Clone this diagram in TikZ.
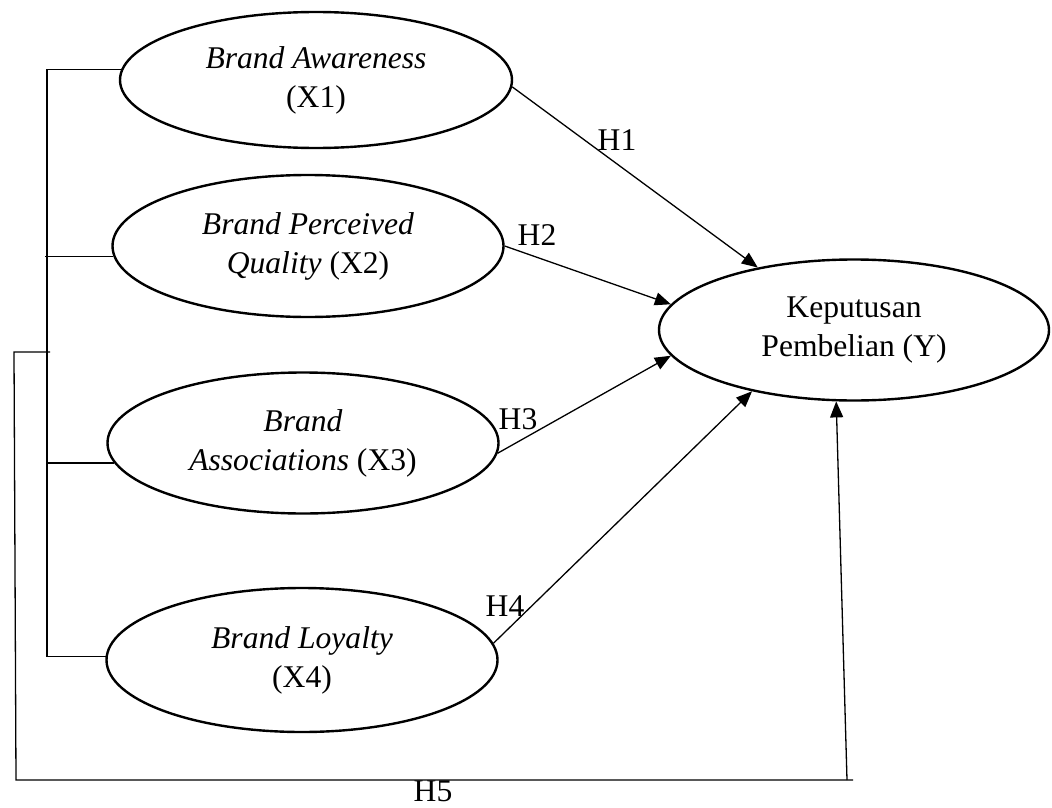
\documentclass[tikz,border=0pt]{standalone}
\usepackage{fontspec}
\setmainfont{Liberation Serif}
\usetikzlibrary{shapes.geometric,arrows.meta}
\begin{document}
\begin{tikzpicture}[x=1pt,y=-1pt,
  var/.style={ellipse, draw, line width=2.4pt, inner sep=0pt, align=center,
    font=\fontsize{31.6}{39}\selectfont},
  conn/.style={line width=1.3pt},
  hyp/.style={conn, -{Triangle[length=16pt,width=13pt]}},
  lbl/.style={font=\fontsize{31.6}{39}\selectfont, inner sep=0pt}]
\useasboundingbox (0,0) rectangle (1052,808);

\node[var, minimum width=392pt, minimum height=136pt] (X1) at (316,80)
  {\textit{Brand Awareness}\\(X1)};
\node[var, minimum width=391pt, minimum height=142pt] (X2) at (308,246)
  {\textit{Brand Perceived}\\\textit{Quality} (X2)};
\node[var, minimum width=391pt, minimum height=141pt] (X3) at (303,443)
  {\textit{Brand}\\\textit{Associations} (X3)};
\node[var, minimum width=391pt, minimum height=144pt] (X4) at (302,660)
  {\textit{Brand Loyalty}\\(X4)};
\node[var, minimum width=390pt, minimum height=141pt] (Y) at (854,330)
  {Keputusan\\Pembelian (Y)};

% left bracket
\coordinate (bx) at (47,0);
\draw[conn] (X1.177.3) -- (X1.177.3 -| bx) -- (X4.179.4 -| bx) -- (X4.179.4);
\draw[conn] (X2.183.9) -- ([xshift=-2pt]X2.183.9 -| bx);
\draw[conn] (X3.186.4) -- (X3.186.4 -| bx);

% outer loop
\coordinate (c1) at (50,352);
\coordinate (c2) at (14,352);
\coordinate (c3) at (16,780);
\coordinate (c4) at (853,780);
\coordinate (c5) at (847,780);
\draw[conn] (c1) -- (c2) -- (c3) -- (c4);

% hypotheses
\draw[hyp] (X1.-2) -- (Y.147.3);
\draw[hyp] (X2.0) -- (Y.172.2);
\draw[hyp] (X3.-3.2) -- (Y.188);
\draw[hyp] (X4.5) -- (Y.211);
\draw[hyp] (c5) -- (Y.256.35);

\node[lbl] (h1) at (617,140) {H1};
\node[lbl] (h2) at (537,235) {H2};
\node[lbl] (h3) at (518,419) {H3};
\node[lbl] (h4) at (505,606) {H4};
\node[lbl] (h5) at (433,791) {H5};
\end{tikzpicture}
\end{document}
